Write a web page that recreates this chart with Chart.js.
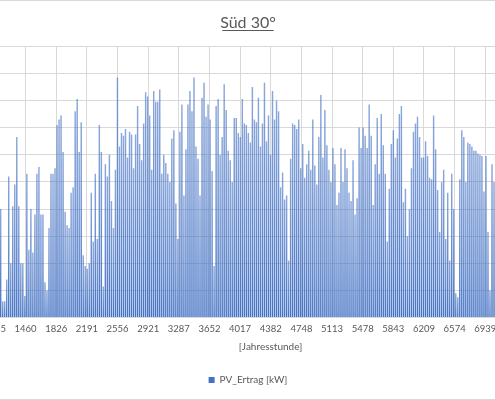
<!DOCTYPE html>
<html>
<head>
<meta charset="utf-8">
<script src="https://cdn.jsdelivr.net/npm/chart.js@4.4.1/dist/chart.umd.min.js"></script>
<style>
  html, body { margin: 0; padding: 0; background: #fff; overflow: hidden; }
  #wrap {
    position: absolute; left: -155px; top: 0;
    width: 805px; height: 400px;
    border: 1px solid #d9d9d9; box-sizing: border-box;
  }
</style>
</head>
<body>
<div id="wrap"><canvas id="myChart"></canvas></div>
<script>
// PV yield, south 30 deg -- one bar per day (daily peak in kW), placed on the hour axis
const titleText = "Süd 30°";
const seriesName = "PV_Ertrag [kW]";
const xTitle = "[Jahresstunde]";

// axis tick labels (hour of year) and where they sit
const tickHours = [0, 365.25, 730.5, 1095.75, 1461, 1826.25, 2191.5, 2556.75, 2922, 3287.25, 3652.5,
  4017.75, 4383, 4748.25, 5113.5, 5478.75, 5844, 6209.25, 6574.5, 6939.75, 7305, 7670.25, 8035.5, 8400.75];
const tickLabels = ["1", "366", "731", "1095", "1460", "1826", "2191", "2556", "2921", "3287", "3652",
  "4017", "4382", "4748", "5113", "5478", "5843", "6209", "6574", "6939", "7304", "7670", "8035", "8400"];

// daily peaks [kW]
const peakJanFeb = [1.2, 0.8, 2.5, 3.1, 0.5, 0.9, 2.8, 3.5, 1.1, 0.6, 0.4, 2.2, 3.6, 3.9, 1.5, 0.7,
  2.4, 1.9, 3.2, 4.1, 0.9, 0.5, 1.8, 2.6, 3.8, 4.3, 1.2, 0.8, 2.9, 3.4, 4.5, 2.1, 0.6, 1.4, 3.7, 4.6,
  4.2, 1.9, 0.8, 2.7, 3.9, 4.8, 5.0, 2.4, 1.1, 3.3, 4.4, 5.1];
const peakSpring = [4.0, 0.6, 0.6, 1.4, 5.2, 2.0, 4.1, 4.9, 6.65, 4.1, 2.0, 2.0, 0.8, 5.3, 2.5, 4.0,
  2.4, 3.8, 5.3, 5.55, 3.8, 3.8, 1.3, 1.0, 3.3, 5.3, 5.3, 5.5, 7.1, 7.3, 7.45, 6.1, 3.9, 3.4, 3.3,
  4.6, 4.8, 7.6, 8.05, 6.1, 7.2, 2.3, 1.9, 1.8,
  2.0, 4.6, 2.8, 5.3, 2.9, 7.1, 6.1, 1.15, 5.65, 5.2, 6.0, 4.3, 3.3, 5.45, 8.85, 6.3, 6.8, 6.7,
  6.95, 5.9, 6.85, 6.75, 5.5, 6.75, 7.8, 6.4, 5.8, 7.15, 8.3, 8.15, 7.45, 5.45, 8.35, 7.95, 7.95,
  8.4, 5.3, 6.0, 5.7, 5.3, 5.0, 6.6, 6.9];
const peakSummer = [4.2, 2.9, 6.85, 7.85, 4.5, 6.2, 7.85, 8.35, 7.6, 8.85, 6.3, 5.85, 4.5, 8.1, 8.65,
  7.4, 7.85, 7.3, 5.4, 1.9, 7.8, 8.05, 6.0, 6.65, 8.6, 7.65, 6.15, 5.8, 5.0, 7.35, 7.35, 6.8, 6.65,
  8.05, 7.15, 7.1, 6.8, 6.45, 8.5, 7.3, 7.2, 8.1,
  6.3, 7.15, 8.65, 6.5, 7.45, 6.0, 8.35, 7.3, 8.0, 7.6, 4.8, 5.35, 4.35, 4.5, 2.1, 5.85, 7.15, 7.1,
  6.95, 7.3, 5.5, 6.4, 5.15, 5.65, 6.15, 5.45, 7.3, 5.6, 4.9, 6.65, 8.2, 5.9, 7.65, 6.35, 5.45, 5.0,
  6.25, 5.65, 4.15, 4.6, 6.25, 5.0, 6.2];
const peakLateSummer = [5.5, 4.6, 4.3, 5.8, 3.8, 4.4, 7.0, 6.25, 7.0, 6.7, 6.25, 7.85, 6.7, 4.15,
  5.65, 7.35, 5.3, 7.5, 6.35, 5.3, 2.8, 4.75, 6.4, 6.9, 5.9, 6.6, 7.5, 7.8, 4.25, 4.75, 3.0, 4.0,
  5.5, 6.85, 7.15, 7.4, 6.65, 5.9, 5.9, 6.5, 5.95,
  5.15, 5.1, 7.45, 6.2, 4.7, 3.15, 5.0, 5.45, 2.9, 4.6, 2.1, 5.3, 4.0, 0.9, 0.75, 5.1, 6.9, 6.65,
  5.0, 6.45, 6.4, 6.3, 6.15, 6.15, 6.05, 6.0, 5.95, 4.65, 5.95, 3.15, 1.0, 5.65, 5.0];
const peakAutumn = [4.8, 5.6, 5.4, 2.3, 1.2, 4.9, 5.3, 5.1, 3.0, 0.9, 4.4, 5.0, 4.6, 2.2, 1.0, 0.6,
  3.8, 4.7, 4.5, 1.8, 0.8, 3.6, 4.2, 4.0, 2.6, 0.7, 0.5, 1.9, 3.9, 4.1, 3.5, 1.3, 0.6, 2.8, 3.7, 3.9,
  1.0, 0.4, 0.8, 3.2, 3.6, 2.1, 0.5, 1.6, 3.4, 3.3, 0.9, 0.4, 2.5, 3.1, 3.0, 1.2, 0.3, 0.6, 2.7, 3.2,
  2.9, 0.8, 0.5, 1.7, 2.8, 3.0, 1.4, 0.4, 0.9, 2.6, 2.9, 2.2, 0.6, 1.3, 2.4];

const dailyPeak = [].concat(peakJanFeb, peakSpring, peakSummer, peakLateSummer, peakAutumn);
// bar sits in the middle of its day on the hour axis
const points = dailyPeak.map((v, d) => ({ x: d * 24 + 12, y: v }));

const blue = "#4472C4";
const grey = "#595959";
const gridGrey = "#d9d9d9";

Chart.defaults.font.family = "Lato";
Chart.defaults.color = grey;

// darker near the ground, lighter toward the peak (like many thin hourly bars)
const barFill = (ctx) => {
  const chart = ctx.chart;
  if (!chart.chartArea || ctx.type !== "data" || !ctx.parsed) return blue;
  const ys = chart.scales.y;
  const top = ys.getPixelForValue(ctx.parsed.y);
  const base = ys.getPixelForValue(0);
  if (!(base - top > 1)) return blue;
  const g = chart.ctx.createLinearGradient(0, base, 0, top);
  g.addColorStop(0, "rgba(68,114,196,1)");
  g.addColorStop(0.1, "rgba(68,114,196,0.95)");
  g.addColorStop(0.35, "rgba(68,114,196,0.85)");
  g.addColorStop(1, "rgba(68,114,196,0.62)");
  return g;
};

const underline = {
  id: "underline",
  afterDraw(chart) {
    const t = chart.titleBlock;
    if (!t) return;
    const c = chart.ctx;
    const f = t.options.font;
    c.save();
    c.font = f.size + "px " + f.family;
    const w = c.measureText(titleText).width;
    const mid = (t.left + t.right) / 2;
    const y = t.top + t.options.padding.top + f.size * 1.2 / 2 + f.size * 0.47;
    c.strokeStyle = grey;
    c.lineWidth = 1;
    c.beginPath();
    c.moveTo(mid - w / 2, Math.round(y) + 0.5);
    c.lineTo(mid + w / 2, Math.round(y) + 0.5);
    c.stroke();
    c.restore();
  }
};

const config = {
  type: "bar",
  data: {
    datasets: [{
      label: seriesName,
      data: points,
      backgroundColor: barFill,
      barPercentage: 0.72,
      categoryPercentage: 1.0,
    }],
  },
  options: {
    responsive: true,
    maintainAspectRatio: false,
    animation: false,
    layout: { padding: { left: 12, right: 11, top: 0, bottom: 4 } },
    scales: {
      x: {
        type: "linear",
        min: 0,
        max: 8760,
        offset: false,
        afterBuildTicks: (s) => { s.ticks = tickHours.map(v => ({ value: v })); },
        afterFit: (s) => { s.paddingLeft = 0; s.paddingRight = 0; },
        ticks: {
          autoSkip: false,
          maxRotation: 0,
          padding: 6,
          font: { size: 9.5 },
          callback: (v, i) => tickLabels[i],
        },
        grid: { color: gridGrey, drawTicks: false, offset: false },
        border: { color: gridGrey },
        title: { display: true, text: xTitle, font: { size: 10 }, padding: { top: 0, bottom: 12 } },
      },
      y: {
        min: 0,
        max: 10,
        ticks: { stepSize: 1, font: { size: 9.5 } },
        grid: { color: gridGrey, drawTicks: false },
        border: { display: false },
        afterFit: (s) => { s.width = 45; s.paddingTop = 0; s.paddingBottom = 0; },
      },
    },
    plugins: {
      title: {
        display: true,
        text: titleText,
        font: { size: 16, weight: "normal" },
        color: grey,
        padding: { top: 12, bottom: 14 },
      },
      legend: {
        position: "bottom",
        labels: {
          boxWidth: 6,
          boxHeight: 6,
          font: { size: 10 },
          padding: 10,
          generateLabels: (chart) => Chart.defaults.plugins.legend.labels.generateLabels(chart)
            .map(l => Object.assign(l, { fillStyle: blue, strokeStyle: blue, lineWidth: 0 })),
        },
      },
      tooltip: { enabled: false },
    },
  },
  plugins: [underline],
};

var myChart = new Chart(document.getElementById("myChart"), config);
</script>
</body>
</html>
